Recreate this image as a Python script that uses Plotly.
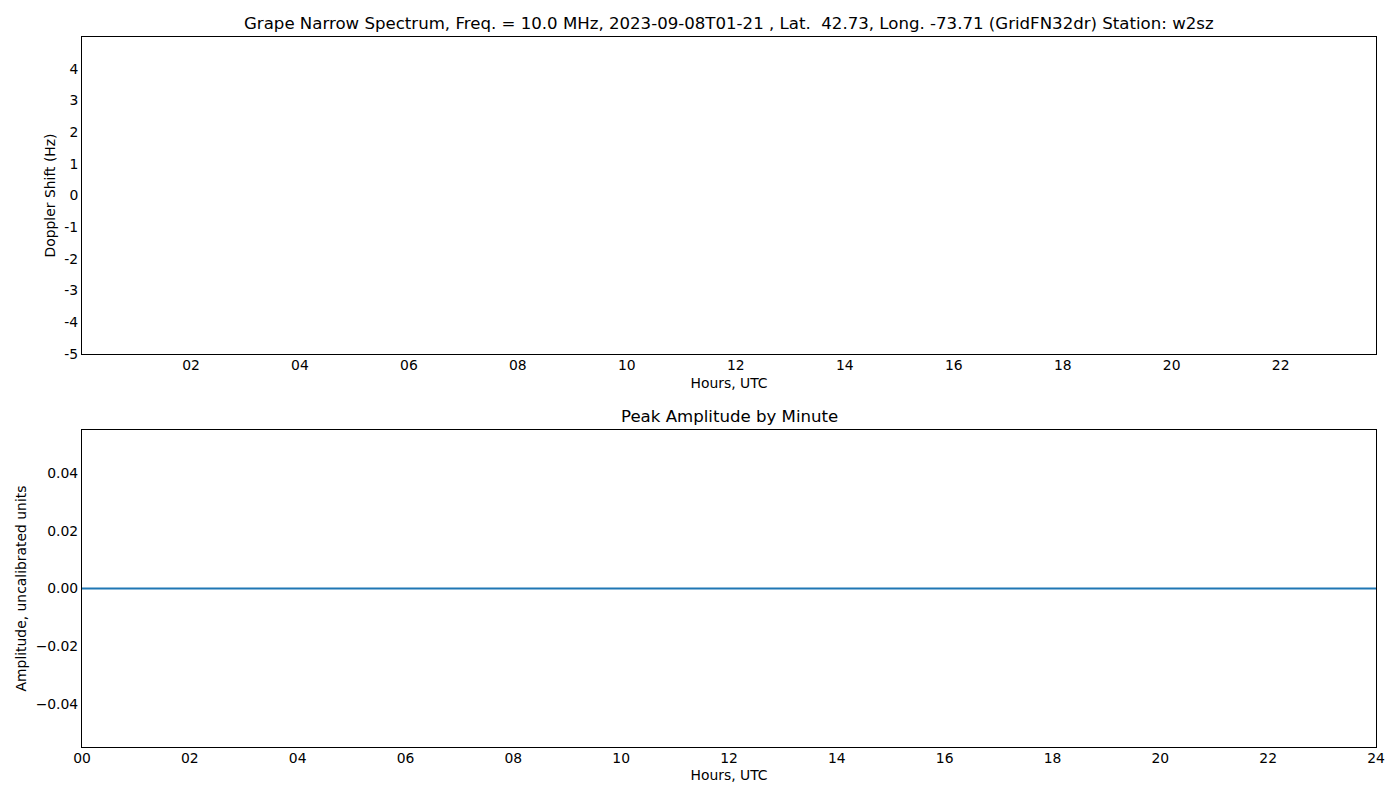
import plotly.graph_objects as go
from plotly.subplots import make_subplots

# chart data
title_top = ("Grape Narrow Spectrum, Freq. = 10.0 MHz, 2023-09-08T01-21 , "
             "Lat.\u00a0 42.73, Long. -73.71 (GridFN32dr) Station: w2sz")
title_bottom = "Peak Amplitude by Minute"

top_xticks = [2, 4, 6, 8, 10, 12, 14, 16, 18, 20, 22]
top_xlabels = ["%02d" % h for h in top_xticks]
top_yticks = [-5, -4, -3, -2, -1, 0, 1, 2, 3, 4]
top_ylabels = [str(v) for v in top_yticks]

bot_xticks = [0, 2, 4, 6, 8, 10, 12, 14, 16, 18, 20, 22, 24]
bot_xlabels = ["%02d" % h for h in bot_xticks]
bot_yticks = [-0.04, -0.02, 0.0, 0.02, 0.04]
bot_ylabels = ["\u22120.04", "\u22120.02", "0.00", "0.02", "0.04"]

# peak amplitude (flat, no signal)
amp_hours = [0.0, 24.0]
amp_values = [0.0, 0.0]

FONT = "DejaVu Sans"
FS = 13.9
W, H = 1400, 800
OFF = 8  # page body margin


def px_x(p):
    return (p - OFF) / W


def px_y(p):
    return 1 - (p - OFF) / H


fig = make_subplots(rows=2, cols=1)

# top panel has no spectrum data
fig.add_trace(go.Scatter(x=[], y=[], mode="lines", showlegend=False), row=1, col=1)
fig.add_trace(go.Scatter(x=amp_hours, y=amp_values, mode="lines",
                         line=dict(color="#1f77b4", width=2),
                         showlegend=False, hoverinfo="skip"), row=2, col=1)

axis_style = dict(showline=True, mirror=True, linecolor="black", linewidth=1,
                  showgrid=False, zeroline=False, ticks="", ticklen=0, automargin=False,
                  tickfont=dict(family=FONT, size=FS, color="black"))

fig.update_xaxes(**axis_style)
fig.update_yaxes(**axis_style)

title_font = dict(family=FONT, size=FS, color="black")

fig.update_xaxes(domain=[px_x(82), px_x(1376)], range=[0, 23.75],
                 tickvals=top_xticks, ticktext=top_xlabels, ticklabelstandoff=-2,
                 title=dict(text="Hours, UTC", font=title_font, standoff=6),
                 row=1, col=1)
fig.update_yaxes(domain=[px_y(354), px_y(37)], range=[-5, 5],
                 tickvals=top_yticks, ticktext=top_ylabels,
                 title=dict(text="Doppler Shift (Hz)", font=title_font, standoff=5),
                 row=1, col=1)
fig.update_xaxes(domain=[px_x(82), px_x(1376)], range=[0, 24],
                 tickvals=bot_xticks, ticktext=bot_xlabels, ticklabelstandoff=-2,
                 title=dict(text="Hours, UTC", font=title_font, standoff=5),
                 row=2, col=1)
fig.update_yaxes(domain=[px_y(747), px_y(430)], range=[-0.055, 0.055],
                 tickvals=bot_yticks, ticktext=bot_ylabels,
                 title=dict(text="Amplitude, uncalibrated units", font=title_font, standoff=5),
                 row=2, col=1)

fig.update_layout(
    width=W, height=H,
    margin=dict(l=0, r=0, t=0, b=0),
    paper_bgcolor="white", plot_bgcolor="white",
    font=dict(family=FONT, color="black"),
    annotations=[
        dict(text=title_top, xref="paper", yref="paper", x=px_x(729), y=px_y(23),
             xanchor="center", yanchor="middle", showarrow=False,
             font=dict(family=FONT, size=16.6, color="black")),
        dict(text=title_bottom, xref="paper", yref="paper", x=px_x(729), y=px_y(416),
             xanchor="center", yanchor="middle", showarrow=False,
             font=dict(family=FONT, size=16.6, color="black")),
    ],
)

fig.write_html("out.html")
